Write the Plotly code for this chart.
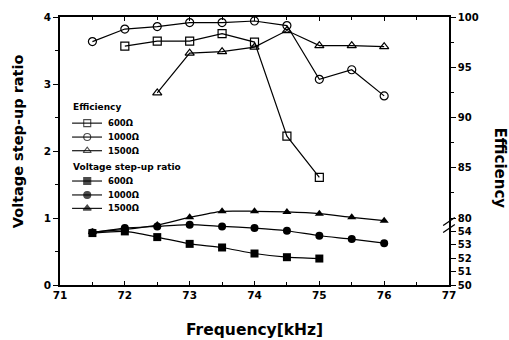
import plotly.graph_objects as go

# Frequency sweep points (kHz)
freq_eff_600 = [72, 72.5, 73, 73.5, 74, 74.5, 75]
freq_eff_1000 = [71.5, 72, 72.5, 73, 73.5, 74, 74.5, 75, 75.5, 76]
freq_eff_1500 = [72.5, 73, 73.5, 74, 74.5, 75, 75.5, 76]

freq_v_600 = [71.5, 72, 72.5, 73, 73.5, 74, 74.5, 75]
freq_v_1000 = [71.5, 72, 72.5, 73, 73.5, 74, 74.5, 75, 75.5, 76]
freq_v_1500 = [71.5, 72, 72.5, 73, 73.5, 74, 74.5, 75, 75.5, 76]

# Efficiency (%)
eff_600 = [97.1, 97.6, 97.6, 98.35, 97.5, 88.15, 84.05]
eff_1000 = [97.55, 98.8, 99.05, 99.45, 99.45, 99.6, 99.15, 93.8, 94.75, 92.15]
eff_1500 = [92.45, 96.4, 96.55, 97.0, 98.65, 97.15, 97.15, 97.05]

# Voltage step-up ratio
v_600 = [0.775, 0.80, 0.715, 0.614, 0.56, 0.47, 0.415, 0.395]
v_1000 = [0.785, 0.85, 0.875, 0.90, 0.875, 0.85, 0.81, 0.735, 0.685, 0.625]
v_1500 = [0.79, 0.83, 0.895, 1.01, 1.10, 1.10, 1.09, 1.065, 1.01, 0.96]

# Right axis: 80-100 linear, broken below 80 with a compressed 50-54 span
eff_tick_text = ["50", "51", "52", "53", "54", "80", "85", "90", "95", "100"]
eff_tick_vals = [73.333, 74.667, 76.0, 77.333, 78.667, 80, 85, 90, 95, 100]

# Legend text
load_names = ["600Ω", "1000Ω", "1500Ω"]
group_titles = ["Efficiency", "Voltage step-up ratio"]

FONT = "DejaVu Sans"
BLACK = "#000000"

fig = go.Figure()

eff_series = [
    (freq_eff_600, eff_600, "square-open"),
    (freq_eff_1000, eff_1000, "circle-open"),
    (freq_eff_1500, eff_1500, "triangle-up-open"),
]
for xs, ys, sym in eff_series:
    fig.add_trace(go.Scatter(
        x=xs, y=ys, yaxis="y2", mode="lines+markers", showlegend=False,
        line=dict(color=BLACK, width=1.2),
        marker=dict(symbol=sym, size=8, color=BLACK, line=dict(width=1.2, color=BLACK)),
    ))

v_series = [
    (freq_v_600, v_600, "square"),
    (freq_v_1000, v_1000, "circle"),
    (freq_v_1500, v_1500, "triangle-up"),
]
for xs, ys, sym in v_series:
    fig.add_trace(go.Scatter(
        x=xs, y=ys, mode="lines+markers", showlegend=False,
        line=dict(color=BLACK, width=1.2, shape="spline", smoothing=0.6),
        marker=dict(symbol=sym, size=8, color=BLACK),
    ))

# Compact two-group legend drawn on an overlay axis pair spanning the plot area
legend_rows_y = [[0.604, 0.552, 0.501], [0.388, 0.336, 0.286]]
legend_title_y = [0.664, 0.441]
legend_symbols = [["square-open", "circle-open", "triangle-up-open"],
                  ["square", "circle", "triangle-up"]]
sample_x0, sample_xm, sample_x1, text_x = 0.031, 0.070, 0.108, 0.118

for g in range(2):
    fig.add_annotation(
        xref="paper", yref="paper", x=0.028, y=legend_title_y[g],
        xanchor="left", yanchor="middle", showarrow=False,
        text="<b>" + group_titles[g] + "</b>",
        font=dict(family=FONT, size=9, color=BLACK),
    )
    for k in range(3):
        yk = legend_rows_y[g][k]
        fig.add_trace(go.Scatter(
            x=[sample_x0, sample_xm, sample_x1], y=[yk, yk, yk],
            xaxis="x2", yaxis="y3", mode="lines+markers", showlegend=False,
            hoverinfo="skip",
            line=dict(color=BLACK, width=1.1),
            marker=dict(symbol=legend_symbols[g][k], size=[0, 7, 0], color=BLACK,
                        line=dict(width=1.1, color=BLACK)),
        ))
        fig.add_annotation(
            xref="paper", yref="paper", x=text_x, y=yk,
            xanchor="left", yanchor="middle", showarrow=False,
            text="<b>" + load_names[k] + "</b>",
            font=dict(family=FONT, size=8.5, color=BLACK),
        )

tickfont = dict(family=FONT, size=10.5, color=BLACK)
fig.update_layout(
    width=509, height=340,
    margin=dict(l=60, r=60, t=17, b=55),
    paper_bgcolor="white", plot_bgcolor="white",
    font=dict(family=FONT, color=BLACK),
    showlegend=False,
    xaxis=dict(
        range=[71, 77], dtick=1, tick0=71,
        showgrid=False, zeroline=False,
        showline=True, linecolor=BLACK, linewidth=1.5, mirror="ticks",
        ticks="inside", ticklen=4, tickwidth=1.2, tickcolor=BLACK,
        minor=dict(dtick=0.5, ticks="inside", ticklen=3, tickcolor=BLACK),
        tickfont=tickfont, tickprefix="<b>", ticksuffix="</b>",
    ),
    yaxis=dict(
        range=[0, 4], dtick=1, tick0=0,
        showgrid=False, zeroline=False,
        showline=True, linecolor=BLACK, linewidth=1.5,
        ticks="outside", ticklen=5, tickwidth=1.2, tickcolor=BLACK,
        minor=dict(dtick=0.5, ticks="outside", ticklen=3, tickcolor=BLACK),
        tickfont=tickfont, tickprefix="<b>", ticksuffix="</b>",
    ),
    yaxis2=dict(
        overlaying="y", side="right",
        range=[73.333, 100],
        tickmode="array", tickvals=eff_tick_vals, ticktext=["<b>" + t + "</b>" for t in eff_tick_text],
        showgrid=False, zeroline=False,
        showline=True, linecolor=BLACK, linewidth=1.5,
        ticks="outside", ticklen=5, tickwidth=1.2, tickcolor=BLACK,
        minor=dict(tickvals=[82.5, 87.5, 92.5, 97.5], ticks="outside", ticklen=3, tickcolor=BLACK),
        tickfont=dict(family=FONT, size=10, color=BLACK),
    ),
    xaxis2=dict(overlaying="x", range=[0, 1], visible=False, fixedrange=True),
    yaxis3=dict(overlaying="y", range=[0, 1], visible=False, fixedrange=True),
)

# Axis titles
fig.add_annotation(xref="paper", yref="paper", x=0.5, y=-0.168, yanchor="middle",
                   showarrow=False, text="<b>Frequency[kHz]</b>",
                   font=dict(family=FONT, size=15.5, color=BLACK))
fig.add_annotation(xref="paper", yref="paper", x=-0.109, y=0.535, xanchor="center",
                   showarrow=False, textangle=-90, text="<b>Voltage step-up ratio</b>",
                   font=dict(family=FONT, size=14.5, color=BLACK))
fig.add_annotation(xref="paper", yref="paper", x=1.132, y=0.437, xanchor="center",
                   showarrow=False, textangle=90, text="<b>Efficiency</b>",
                   font=dict(family=FONT, size=15, color=BLACK))

# Axis break marks on the right efficiency axis
for dy in (-0.35, 0.35):
    fig.add_shape(type="line", xref="paper", yref="y2",
                  x0=0.985, x1=1.015, y0=78.9 + dy, y1=79.7 + dy,
                  line=dict(color=BLACK, width=1.3))

fig.write_html("out.html")
